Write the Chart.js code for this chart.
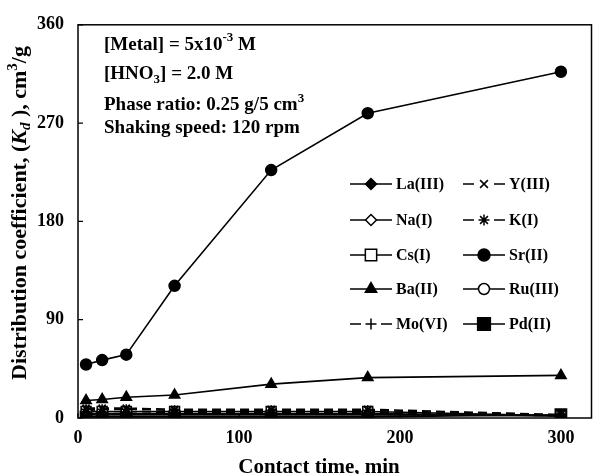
<!DOCTYPE html>
<html><head><meta charset="utf-8">
<script src="https://cdn.jsdelivr.net/npm/chart.js@4"></script>
<style>html,body{margin:0;padding:0;background:#fff}</style>
</head><body>
<canvas id="c" width="601" height="474" style="width:601px;height:474px;display:block"></canvas>
<script>
// ---- data ----
const times = [5, 15, 30, 60, 120, 180, 300];
const seriesNames = ['La(III)', 'Y(III)', 'Na(I)', 'K(I)', 'Cs(I)', 'Sr(II)', 'Ba(II)', 'Ru(III)', 'Mo(VI)', 'Pd(II)'];
const laIII = [4, 4, 4, 4, 4, 4, 2];
const yIII  = [9, 9, 9, 8, 8, 8, 3];
const naI   = [3, 3, 3, 3, 3, 3, 2];
const kI    = [8, 8, 8, 7, 7, 7, 3];
const csI   = [6, 6, 6, 6, 6, 6, 2];
const srII  = [49, 53, 58, 121, 227, 279, 317];
const baII  = [16, 17, 19, 21, 31, 37, 39];
const ruIII = [3, 3, 3, 3, 3, 3, 2];
const moVI  = [7, 6, 6, 5, 5, 5, 2];
const pdII  = [1, 1, 1, 1, 1, 1, 3];
const seriesValues = [laIII, yIII, naI, kI, csI, srII, baII, ruIII, moVI, pdII];
const xTicks = [0, 100, 200, 300];
const yTicks = [0, 90, 180, 270, 360];

// ---- styles ----
const FONT = '"Liberation Serif", "Times New Roman", serif';
const styles = [
  {ps: 'rectRot', r: 5, fill: '#000', dash: []},
  {ps: 'crossRot', r: 5, fill: '#000', dash: [9, 5]},
  {ps: 'rectRot', r: 5, fill: '#fff', dash: []},
  {ps: 'star', r: 5, fill: '#000', dash: [9, 5]},
  {ps: 'rect', r: 7, fill: '#fff', dash: []},
  {ps: 'circle', r: 5.5, fill: '#000', dash: []},
  {ps: 'triangle', r: 6, fill: '#000', dash: []},
  {ps: 'circle', r: 5, fill: '#fff', dash: []},
  {ps: 'cross', r: 5, fill: '#000', dash: [9, 5]},
  {ps: 'rect', r: 8, fill: '#000', dash: []}
];

const datasets = seriesNames.map((name, i) => ({
  label: name,
  data: times.map((t, j) => ({x: t, y: seriesValues[i][j]})),
  borderColor: '#000',
  backgroundColor: '#000',
  borderWidth: 1.6,
  borderDash: styles[i].dash,
  pointStyle: styles[i].ps,
  pointRadius: styles[i].r,
  pointBackgroundColor: styles[i].fill,
  pointBorderColor: '#000',
  pointBorderWidth: 1.5,
  tension: 0
}));

function drawMarker(ctx, st, x, y, r) {
  ctx.save();
  ctx.fillStyle = st.fill;
  ctx.strokeStyle = '#000';
  ctx.lineWidth = 1.5;
  ctx.setLineDash([]);
  Chart.helpers.drawPoint(ctx, {pointStyle: st.ps, radius: r, rotation: 0, borderWidth: 1.5}, x, y);
  ctx.restore();
}

function drawRich(ctx, segs, x, y) {
  let cx = x;
  for (const [t, f, dy] of segs) {
    ctx.font = f;
    ctx.fillText(t, cx, y + (dy || 0));
    cx += ctx.measureText(t).width;
  }
  return cx - x;
}
function richWidth(ctx, segs) {
  let w = 0;
  for (const [t, f] of segs) { ctx.font = f; w += ctx.measureText(t).width; }
  return w;
}

const decor = {
  id: 'decor',
  afterDraw(chart) {
    const ctx = chart.ctx;
    const a = chart.chartArea;
    const xs = chart.scales.x, ys = chart.scales.y;
    ctx.save();
    ctx.strokeStyle = '#000';
    ctx.lineWidth = 1.5;
    ctx.strokeRect(a.left, a.top, a.right - a.left, a.bottom - a.top);
    ctx.lineWidth = 1.2;
    ctx.beginPath();
    for (const v of yTicks) {
      const py = ys.getPixelForValue(v);
      ctx.moveTo(a.left, py); ctx.lineTo(a.left + 5, py);
    }
    for (const v of xTicks) {
      const px = xs.getPixelForValue(v);
      ctx.moveTo(px, a.bottom); ctx.lineTo(px, a.bottom - 5);
    }
    ctx.stroke();

    ctx.fillStyle = '#000';
    ctx.textBaseline = 'alphabetic';
    ctx.textAlign = 'left';
    const B19 = 'bold 19px ' + FONT, B13 = 'bold 13px ' + FONT;
    drawRich(ctx, [['[Metal] = 5x10', B19], ['-3', B13, -9], [' M', B19]], 104, 50);
    drawRich(ctx, [['[HNO', B19], ['3', B13, 4], ['] = 2.0 M', B19]], 104, 79);
    drawRich(ctx, [['Phase ratio: 0.25 g/5 cm', B19], ['3', B13, -8]], 104, 110);
    drawRich(ctx, [['Shaking speed: 120 rpm', B19]], 104, 133);

    const B21 = 'bold 21px ' + FONT;
    ctx.font = B21;
    ctx.textAlign = 'center';
    ctx.fillText('Contact time, min', 319, 473);
    ctx.textAlign = 'left';

    const ysegs = [['Distribution coefficient, (', 'bold 22px ' + FONT], ['K', 'italic bold 22px ' + FONT], ['d', 'italic bold 15px ' + FONT, 4], [' ), cm', 'bold 22px ' + FONT], ['3', 'bold 15px ' + FONT, -9], ['/g', 'bold 22px ' + FONT]];
    ctx.save();
    ctx.translate(26, 213);
    ctx.rotate(-Math.PI / 2);
    const w = richWidth(ctx, ysegs);
    drawRich(ctx, ysegs, -w / 2, 0);
    ctx.restore();

    const rows = [184, 220, 255, 289, 324];
    const cols = [{l0: 350, l1: 392, m: 371, t: 396}, {l0: 463, l1: 505, m: 484, t: 509}];
    ctx.textBaseline = 'middle';
    seriesNames.forEach((name, i) => {
      const c = cols[i % 2], y = rows[Math.floor(i / 2)], st = styles[i];
      ctx.strokeStyle = '#000';
      ctx.lineWidth = 1.6;
      ctx.beginPath();
      if (st.dash.length) {
        ctx.moveTo(c.l0, y); ctx.lineTo(c.m - 10, y);
        ctx.moveTo(c.m + 10, y); ctx.lineTo(c.l1, y);
      } else {
        ctx.moveTo(c.l0, y); ctx.lineTo(c.l1, y);
      }
      ctx.stroke();
      drawMarker(ctx, st, c.m, y, st.r + (st.ps === 'rect' ? 1 : 0.5));
      ctx.fillStyle = '#000';
      ctx.font = 'bold 16px ' + FONT;
      ctx.fillText(name, c.t, y + 1);
    });
    ctx.restore();
  }
};

new Chart(document.getElementById('c'), {
  type: 'line',
  data: {datasets},
  options: {
    responsive: false,
    devicePixelRatio: 1,
    animation: false,
    layout: {padding: {top: 18, right: 2, left: 0, bottom: 0}},
    plugins: {legend: {display: false}, tooltip: {enabled: false}},
    scales: {
      x: {
        type: 'linear', min: 0, max: 319,
        afterBuildTicks: s => { s.ticks = xTicks.map(v => ({value: v})); },
        afterFit: s => { s.height = 56; },
        grid: {display: false, drawTicks: false},
        border: {display: false},
        ticks: {color: '#000', font: {family: FONT, size: 18, weight: 'bold'}, padding: 10, maxRotation: 0}
      },
      y: {
        type: 'linear', min: 0, max: 360,
        afterBuildTicks: s => { s.ticks = yTicks.map(v => ({value: v})); },
        afterFit: s => { s.width = 78; },
        grid: {display: false, drawTicks: false},
        border: {display: false},
        ticks: {color: '#000', font: {family: FONT, size: 18, weight: 'bold'}, padding: 14}
      }
    }
  },
  plugins: [decor]
});
</script>
</body></html>
